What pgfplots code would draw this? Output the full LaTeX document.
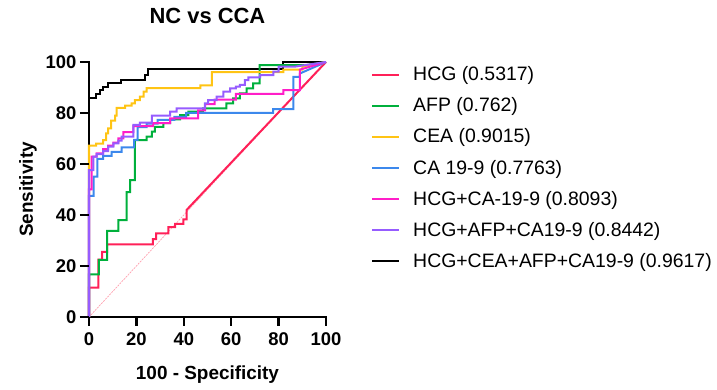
\documentclass[border=0pt]{standalone}
\usepackage{fontspec}
\setmainfont{Liberation Sans}
\usepackage{pgfplots}
\pgfplotsset{compat=1.18}
\definecolor{cHCG}{RGB}{255,32,88}
\definecolor{cAFP}{RGB}{0,176,60}
\definecolor{cCEA}{RGB}{255,196,20}
\definecolor{cCA}{RGB}{60,136,236}
\definecolor{cHCA}{RGB}{255,30,200}
\definecolor{cPUR}{RGB}{150,92,255}
\definecolor{cDIAG}{RGB}{255,160,175}
\begin{document}
\begin{tikzpicture}
\path[use as bounding box] (0bp,0bp) rectangle (717bp,390bp);
\begin{axis}[
  at={(89bp,73bp)}, anchor=south west,
  scale only axis, width=237bp, height=255bp,
  xmin=0, xmax=100, ymin=0, ymax=100,
  axis x line=bottom, axis y line=left,
  x axis line style={-}, y axis line style={-},
  every outer x axis line/.append style={line width=2.6bp, line cap=rect},
  every outer y axis line/.append style={line width=2.6bp, line cap=rect},
  xtick={0,20,...,100}, ytick={0,20,...,100},
  xtick align=outside, ytick align=outside,
  major tick length=9bp,
  major tick style={line width=2.4bp, black},
  /pgf/number format/assume math mode=true,
  tick label style={font=\bfseries\fontsize{18.5}{20}\selectfont},
  xticklabel style={yshift=-3bp},
  clip=false,
  title={NC vs CCA},
  title style={font=\bfseries\fontsize{22}{24}\selectfont, at={(axis description cs:0.5,1.1294)}, anchor=base},
  xlabel={100 - Specificity},
  xlabel style={font=\bfseries\fontsize{19}{22}\selectfont, at={(axis description cs:0.5,-0.247)}, anchor=base},
  ylabel={Sensitivity},
  ylabel style={font=\bfseries\fontsize{19}{22}\selectfont, at={(axis description cs:-0.2363,0.5)}, anchor=base, rotate=0},
  legend style={at={(axis description cs:1.19,0.99)}, anchor=north west, draw=none, fill=none,
    font=\fontsize{19.5}{22}\selectfont, row sep=11.5bp, column sep=11bp, inner sep=0pt,
    nodes={inner sep=2bp}},
  legend cell align=left,
  legend image code/.code={\draw[#1] (0bp,0bp) -- (27bp,0bp);},
  every axis plot/.append style={line width=2bp, line join=miter},
]
\addlegendimage{cHCG, line width=2bp}\addlegendentry{HCG (0.5317)}
\addlegendimage{cAFP, line width=2bp}\addlegendentry{AFP (0.762)}
\addlegendimage{cCEA, line width=2bp}\addlegendentry{CEA (0.9015)}
\addlegendimage{cCA, line width=2bp}\addlegendentry{CA 19-9 (0.7763)}
\addlegendimage{cHCA, line width=2bp}\addlegendentry{HCG+CA-19-9 (0.8093)}
\addlegendimage{cPUR, line width=2bp}\addlegendentry{HCG+AFP+CA19-9 (0.8442)}
\addlegendimage{black, line width=2bp}\addlegendentry{HCG+CEA+AFP+CA19-9 (0.9617)}

% reference diagonal
\addplot[cDIAG, densely dotted, line width=0.7bp, forget plot] coordinates {(0,0) (100,100)};

% HCG+CEA+AFP+CA19-9
\addplot[black, forget plot] coordinates {
(0,0)(0,86)(2.8,86)(2.8,87.3)(4.6,87.3)(4.6,89)(6,89)(6,90.3)(7.9,90.3)(7.9,91.6)
(13.5,91.6)(13.5,92.9)(23.6,92.9)(23.6,94.9)(25,94.9)(25,97.1)(82,97.1)(82,100)(100,100)};

% HCG
\addplot[cHCG, forget plot] coordinates {
(0,0)(0,11.5)(4,11.5)(4,22.5)(5.5,22.5)(5.5,25.5)(7.7,25.5)(7.7,28.5)(27,28.5)(27,30.5)
(28.3,30.5)(28.3,32.8)(33.5,32.8)(33.5,35.2)(36.3,35.2)(36.3,36.5)(39.8,36.5)(39.8,38.3)
(41.2,38.3)(41.2,42)(100,100)};

% AFP
\addplot[cAFP, forget plot] coordinates {
(0,0)(0,16.7)(4.2,16.7)(4.2,22.4)(7.7,22.4)(7.7,33.8)(12.4,33.8)(12.4,38)(15.9,38)(15.9,49)
(17.3,49)(17.3,53.7)(19.4,53.7)(19.4,69.4)(24.3,69.4)(24.3,70.7)(26.5,70.7)(26.5,72.7)
(27.8,72.7)(27.8,74.6)(31.4,74.6)(31.4,76)(34.2,76)(34.2,77.5)(38.4,77.5)(38.4,79.2)
(41.9,79.2)(41.9,80.5)(48.2,80.5)(48.2,81.8)(58,81.8)(58,83.8)(60.8,83.8)(60.8,85.7)
(63.7,85.7)(63.7,87.7)(66.5,87.7)(66.5,89.7)(69.3,89.7)(69.3,91.6)(72,91.6)(72,98.8)
(92,98.8)(100,100)};

% CEA
\addplot[cCEA, forget plot] coordinates {
(0,0)(0,67.2)(3,67.2)(3,68)(6,68)(6,69.4)(7.2,69.4)(7.2,72)(8.1,72)(8.1,74)(9.3,74)(9.3,77)
(11,77)(11,79)(11.7,79)(11.7,82)(15.2,82)(15.2,82.9)(18,82.9)(18,83.8)(19.4,83.8)(19.4,85)
(21.5,85)(21.5,86.4)(23,86.4)(23,88.4)(24.3,88.4)(24.3,89.8)(47,89.8)(47,90.8)(51.8,90.8)
(51.8,96)(82,96)(82,97)(90,97)(90,98.2)(100,100)};

% CA 19-9
\addplot[cCA, forget plot] coordinates {
(0,0)(0,47.5)(2,47.5)(2,55)(3.5,55)(3.5,62)(6,62)(6,63.2)(9.5,63.2)(9.5,64.8)(13.8,64.8)
(13.8,66.5)(19,66.5)(19,69.5)(20.5,69.5)(20.5,74.5)(24.3,74.5)(24.3,75.8)(29,75.8)(29,77.3)
(36,77.3)(36,78.5)(41,78.5)(41,80)(77.7,80)(77.7,81.5)(86.2,81.5)(86.2,94.2)(89,94.2)
(89,95.5)(100,100)};

% HCG+CA-19-9
\addplot[cHCA, forget plot] coordinates {
(0,0)(0,50)(1.1,50)(1.1,62.9)(3.2,62.9)(3.2,64.2)(6,64.2)(6,65.8)(8.1,65.8)(8.1,67.2)
(10.3,67.2)(10.3,68.4)(12.4,68.4)(12.4,70)(14.5,70)(14.5,72.5)(18.7,72.5)(18.7,74.9)
(27.1,74.9)(27.1,76)(34.2,76)(34.2,77.9)(46,77.9)(46,81)(49,81)(49,83.5)(53,83.5)
(53,85.2)(62,85.2)(62,87.5)(82,87.5)(82,89)(89,89)(89,97)(100,100)};

% HCG+AFP+CA19-9
\addplot[cPUR, forget plot] coordinates {
(0,0)(0,57.6)(1.8,57.6)(1.8,62.9)(3.2,62.9)(3.2,63.9)(6,63.9)(6,65)(8.1,65)(8.1,66.8)
(10.3,66.8)(10.3,68.1)(12.4,68.1)(12.4,69.2)(13.8,69.2)(13.8,70.7)(18.7,70.7)(18.7,75.3)
(21.5,75.3)(21.5,76.2)(26.5,76.2)(26.5,79)(34.2,79)(34.2,80.5)(37,80.5)(37,81.8)
(48.9,81.8)(48.9,83.8)(50.3,83.8)(50.3,85)(53.9,85)(53.9,86.4)(56.7,86.4)(56.7,88.4)
(59.5,88.4)(59.5,89.7)(62,89.7)(62,90.3)(63.7,90.3)(63.7,91)(65.8,91)(65.8,92.9)
(67.2,92.9)(67.2,94)(72.2,94)(72.2,94.9)(77.8,94.9)(77.8,96.2)(80,96.2)(80,98.2)
(87,98.2)(100,100)};
\end{axis}
% outward tick marks (axis decoration), drawn at the axis tick positions
\foreach \i [evaluate=\i as \xx using 89+47.4*\i, evaluate=\i as \yy using 73+51*\i] in {0,...,5} {
  \draw[line width=2.4bp, black] (\xx bp,73bp) -- (\xx bp,64bp);
  \draw[line width=2.4bp, black] (89bp,\yy bp) -- (80bp,\yy bp);
}
\end{tikzpicture}
\end{document}
